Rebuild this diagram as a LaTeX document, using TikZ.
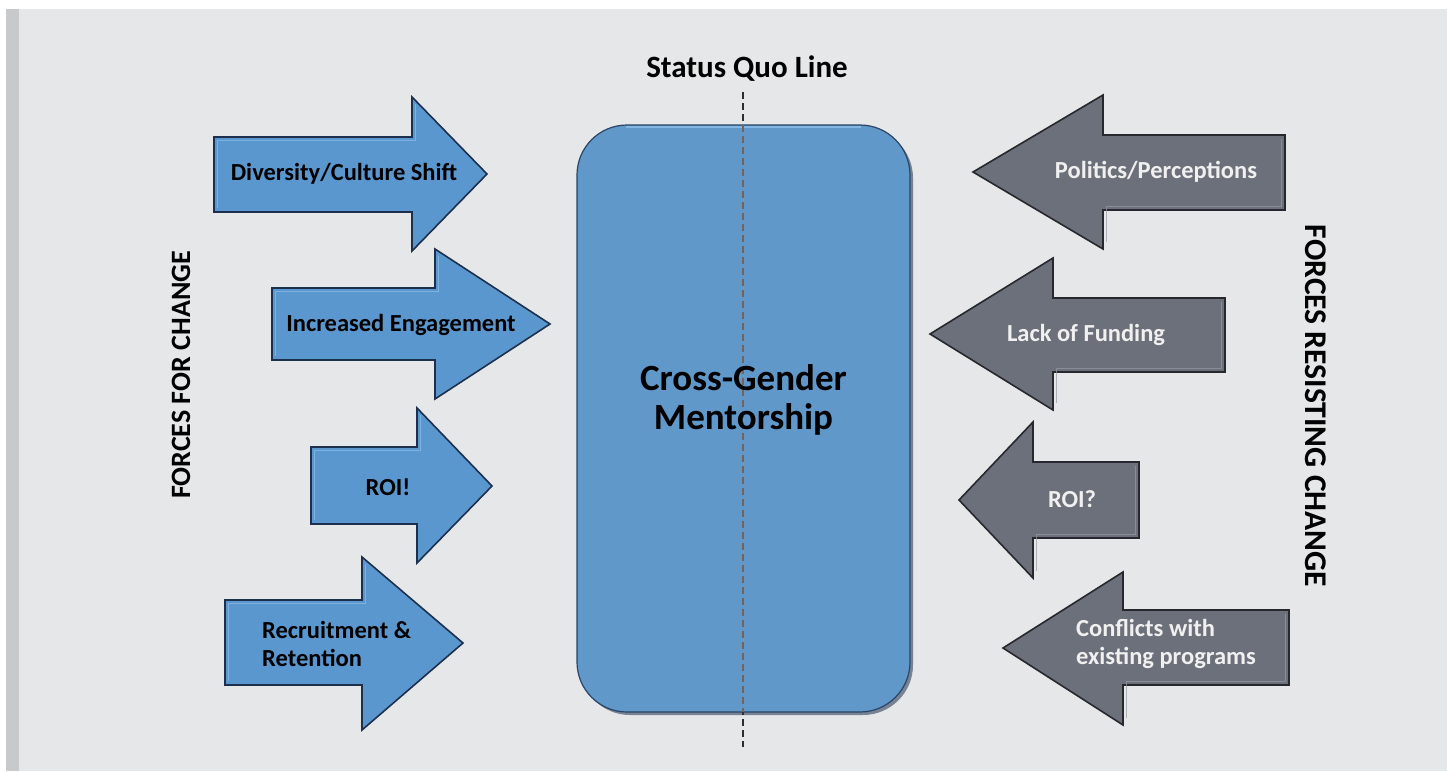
\documentclass[tikz,border=0pt]{standalone}
\usepackage{fontspec}
\setmainfont{Carlito}
\definecolor{bggrey}{RGB}{230,231,232}
\definecolor{bargrey}{RGB}{200,201,203}
\definecolor{arrblue}{RGB}{91,151,207}
\definecolor{rectblue}{RGB}{96,152,202}
\definecolor{blueline}{RGB}{28,48,78}
\definecolor{bluelight}{RGB}{140,190,232}
\definecolor{arrgrey}{RGB}{108,112,122}
\definecolor{greyline}{RGB}{38,40,46}
\definecolor{greylight}{RGB}{150,154,163}
\definecolor{greytext}{RGB}{240,240,240}
\definecolor{sqdark}{RGB}{45,45,45}
\definecolor{sqbrown}{RGB}{130,95,72}
\begin{document}
\begin{tikzpicture}[x=1pt,y=-1pt,
  bluearrow/.style={fill=arrblue, draw=blueline, line width=1.6pt, line join=miter},
  greyarrow/.style={fill=arrgrey, draw=greyline, line width=1.6pt, line join=miter},
  bevelblue/.style={draw=bluelight, line width=0.8pt, opacity=0.7},
  bevelgrey/.style={draw=greylight, line width=0.8pt, opacity=0.7},
  btext/.style={font=\bfseries\fontsize{24.5}{28}\selectfont, text=black, inner sep=0pt, align=left},
  gtext/.style={font=\bfseries\fontsize{24.5}{28}\selectfont, text=greytext, inner sep=0pt, align=left},
  sideLabel/.style={font=\bfseries\fontsize{28}{32}\selectfont, text=black, inner sep=0pt},
  sqline/.style={line width=2.4pt, dash pattern=on 7pt off 4pt},
]
\useasboundingbox (0,0) rectangle (1447,771);
\fill[white] (0,0) rectangle (1447,771);
\fill[bggrey] (6,9) rectangle (1447,771);
\fill[bargrey] (6,9) rectangle (19,771);

% ---------- central box ----------
\fill[blueline, opacity=0.55, rounded corners=50pt] (580,128) rectangle (913,715);
\node[draw=blueline!80!rectblue, line width=1.2pt, fill=rectblue, rounded corners=50pt,
      minimum width=333pt, minimum height=587pt, inner sep=0pt] (box) at (743.5,418.5) {};
\draw[bluelight, line width=1.5pt, opacity=0.8] ([xshift=50pt,yshift=-2.5pt]box.north west) -- ([xshift=-50pt,yshift=-2.5pt]box.north east);

% ---------- status quo line ----------
\coordinate (sqtop) at (743,92);
\coordinate (sqbot) at (743,747);
\draw[sqline, sqdark] (sqtop) -- (sqbot);
\begin{scope}
  \clip[rounded corners=50pt] (577,125) rectangle (910,712);
  \draw[sqline, sqbrown] (sqtop) -- (sqbot);
\end{scope}
\node[font=\bfseries\fontsize{31}{36}\selectfont, anchor=base, inner sep=0pt] (sqlabel) at (747,77) {Status Quo Line};

\node[font=\bfseries\fontsize{37}{39}\selectfont, align=center, inner sep=0pt] (cgm) at (743.5,400) {Cross-Gender\\Mentorship};

% ---------- forces for change (blue, pointing right) ----------
\draw[bluearrow] (214,137) -- (412,137) -- (412,97) -- (487,174) -- (412,251) -- (412,212) -- (214,212) -- cycle;
\draw[bevelblue] (217,208) -- (217,140) -- (415,140) -- (415,104);
\node[btext, anchor=base] (f1) at (344,180) {Diversity/Culture Shift};

\draw[bluearrow] (272,288) -- (435,288) -- (435,249) -- (550,324) -- (435,399) -- (435,360) -- (272,360) -- cycle;
\draw[bevelblue] (275,356) -- (275,291) -- (438,291) -- (438,256);
\node[btext, anchor=base] (f2) at (401,331) {Increased Engagement};

\draw[bluearrow] (311,447) -- (417,447) -- (417,408) -- (492,486) -- (417,563) -- (417,524) -- (311,524) -- cycle;
\draw[bevelblue] (314,520) -- (314,450) -- (420,450) -- (420,415);
\node[btext, anchor=base] (f3) at (388,495) {ROI!};

\draw[bluearrow] (225,600) -- (362,600) -- (362,557) -- (463,643) -- (362,730) -- (362,685) -- (225,685) -- cycle;
\draw[bevelblue] (228,681) -- (228,603) -- (365,603) -- (365,564);
\node[btext, anchor=west] (f4) at (262,644) {Recruitment \&\\Retention};

% ---------- forces resisting change (grey, pointing left) ----------
\draw[greyarrow] (1285,135) -- (1103,135) -- (1103,95) -- (973,172) -- (1103,249) -- (1103,210) -- (1285,210) -- cycle;
\draw[bevelgrey] (1281,139) -- (1281,206) -- (1106,206) -- (1106,242);
\node[gtext, anchor=base] (r1) at (1156,178) {Politics/Perceptions};

\draw[greyarrow] (1225,298) -- (1053,298) -- (1053,258) -- (930,334) -- (1053,410) -- (1053,372) -- (1225,372) -- cycle;
\draw[bevelgrey] (1221,302) -- (1221,368) -- (1056,368) -- (1056,403);
\node[gtext, anchor=base] (r2) at (1086,341) {Lack of Funding};

\draw[greyarrow] (1139,462) -- (1033,462) -- (1033,422) -- (959,500) -- (1033,578) -- (1033,538) -- (1139,538) -- cycle;
\draw[bevelgrey] (1135,466) -- (1135,534) -- (1036,534) -- (1036,571);
\node[gtext, anchor=base] (r3) at (1072,507) {ROI?};

\draw[greyarrow] (1289,610) -- (1123,610) -- (1123,572) -- (1003,648) -- (1123,725) -- (1123,685) -- (1289,685) -- cycle;
\draw[bevelgrey] (1285,614) -- (1285,681) -- (1126,681) -- (1126,718);
\node[gtext, anchor=west] (r4) at (1076,644) {Conflicts with\\existing programs};

% ---------- side labels ----------
\node[sideLabel, rotate=90] (lfor) at (181,375) {FORCES FOR CHANGE};
\node[sideLabel, rotate=-90, font=\bfseries\fontsize{31.6}{34}\selectfont] (lres) at (1316,406) {FORCES RESISTING CHANGE};
\end{tikzpicture}
\end{document}
